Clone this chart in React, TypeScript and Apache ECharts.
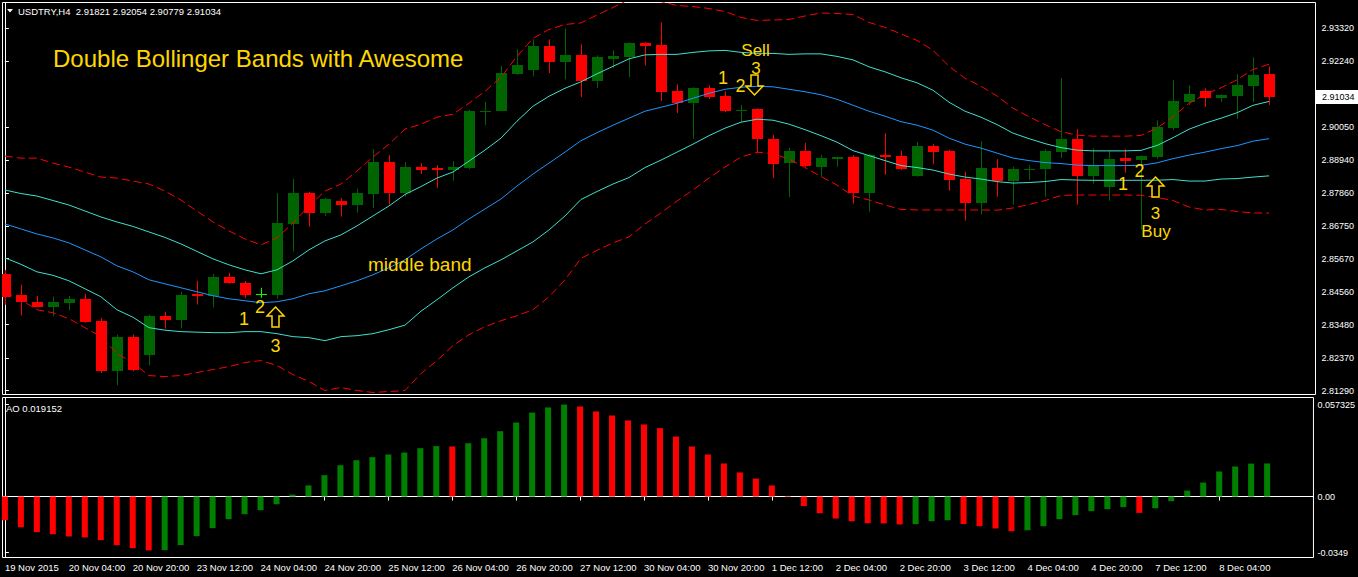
import React, { useEffect, useRef } from "react";
import * as echarts from "echarts";

// ---- H4 candles USDTRY (bar 0 = 19 Nov 2015 ...) ----
const opens = [2.85168,2.84449,2.8424,2.84074,2.84207,2.84339,2.8361,2.8193,2.8308,2.8246,
2.83776,2.8362,2.84482,2.84415,2.85068,2.84869,2.84505,2.84472,2.86825,2.87852,
2.87199,2.87587,2.87464,2.87819,2.88879,2.87862,2.88714,2.8869,2.88624,2.8868,
2.90546,2.90579,2.91806,2.91928,2.92724,2.92203,2.92425,2.91574,2.92293,2.92369,
2.92823,2.92757,2.91232,2.90845,2.91332,2.91067,2.90579,2.90636,2.89642,2.88856,
2.89244,2.88724,2.88989,2.89045,2.87862,2.89111,2.89078,2.88425,2.8941,2.89244,
2.88316,2.87531,2.8868,2.8826,2.88624,2.88657,2.89221,2.89642,2.88425,2.88061,
2.89022,2.88956,2.89055,2.90016,2.90878,2.91232,2.9101,2.91077,2.91408,2.91821];
const highs = [2.853,2.84803,2.84439,2.84405,2.84439,2.84505,2.8371,2.83146,2.83146,2.83809,
2.83908,2.84571,2.84936,2.85168,2.85201,2.84936,2.84704,2.87852,2.88316,2.87895,
2.87686,2.87686,2.87995,2.8931,2.89111,2.88879,2.88846,2.8878,2.88912,2.90613,
2.90878,2.92071,2.92624,2.92956,2.92956,2.9332,2.9279,2.92425,2.92591,2.92856,
2.92866,2.93519,2.91464,2.91365,2.91431,2.91232,2.90778,2.90669,2.89784,2.89353,
2.89519,2.89121,2.89055,2.89111,2.89154,2.8984,2.89254,2.89552,2.89486,2.89287,
2.88558,2.89575,2.88979,2.88724,2.8878,2.8931,2.91673,2.89973,2.89343,2.89244,
2.8931,2.89111,2.90271,2.91597,2.91431,2.91332,2.91133,2.91796,2.92359,2.92054];
const lows = [2.8414,2.83786,2.84057,2.83753,2.83951,2.83544,2.81864,2.81466,2.8193,2.82129,
2.83345,2.83355,2.8415,2.84051,2.84836,2.84349,2.84372,2.84339,2.85907,2.86735,
2.8709,2.87067,2.87199,2.87355,2.87464,2.87729,2.88482,2.88028,2.8826,2.88647,
2.90115,2.9057,2.91779,2.91729,2.91839,2.9163,2.91043,2.91342,2.91995,2.91706,
2.92094,2.90911,2.90513,2.89652,2.90977,2.90536,2.90215,2.89188,2.88349,2.87719,
2.88714,2.88392,2.88724,2.87497,2.87232,2.88458,2.88614,2.88399,2.88823,2.87928,
2.86934,2.8714,2.87729,2.87464,2.88283,2.87729,2.89022,2.87464,2.8816,2.87597,
2.88525,2.86636,2.88989,2.8994,2.90778,2.90712,2.90878,2.90314,2.90868,2.90779];
const closes = [2.84405,2.84217,2.84074,2.8424,2.84339,2.83577,2.8193,2.8308,2.81963,2.83776,
2.8362,2.84472,2.84415,2.85068,2.84846,2.84472,2.84505,2.86858,2.87852,2.87199,
2.87653,2.87464,2.87852,2.88879,2.87862,2.88714,2.88624,2.88624,2.88714,2.90579,
2.90593,2.91829,2.92094,2.92724,2.92193,2.92425,2.91574,2.92359,2.92392,2.92833,
2.92734,2.91209,2.90845,2.91332,2.91043,2.90579,2.90626,2.89652,2.88813,2.89244,
2.88757,2.89012,2.89045,2.87862,2.89111,2.89055,2.88657,2.8941,2.89221,2.88293,
2.87531,2.8868,2.8826,2.88647,2.88657,2.89244,2.89642,2.88425,2.88757,2.88979,
2.88922,2.89078,2.90039,2.90901,2.91133,2.9101,2.911,2.91431,2.91763,2.91034];

// ---- Bollinger middle line and one standard deviation (read per bar) ----
const bbMiddle = [2.86825,2.86659,2.86493,2.86361,2.86195,2.85963,2.85731,2.85433,2.85234,2.84969,
2.84836,2.84704,2.84571,2.84439,2.84339,2.84273,2.84207,2.8424,2.84339,2.84505,
2.84604,2.8477,2.84936,2.85135,2.85367,2.85632,2.85996,2.86328,2.86626,2.8699,
2.87322,2.87653,2.88084,2.88482,2.88846,2.89211,2.89592,2.89857,2.90106,2.90338,
2.9057,2.90702,2.90835,2.91,2.91166,2.91299,2.91365,2.91398,2.91381,2.91299,
2.91216,2.91116,2.90967,2.90768,2.9057,2.90404,2.90222,2.90106,2.8994,2.89675,
2.89476,2.89343,2.89178,2.89012,2.88929,2.88863,2.8883,2.8878,2.88763,2.88763,
2.88763,2.88772,2.88855,2.88995,2.89111,2.89211,2.89327,2.89426,2.89575,2.89658];
const bbDeviation = [0.01127,0.01176,0.01259,0.01243,0.01259,0.01292,0.01326,0.01458,0.01508,0.01591,
0.01541,0.01458,0.01342,0.01226,0.01127,0.01027,0.00961,0.0106,0.01259,0.01458,
0.01657,0.0169,0.01823,0.01955,0.02055,0.02171,0.02071,0.02022,0.01922,0.01922,
0.01955,0.02022,0.02154,0.02254,0.0222,0.02121,0.01955,0.01955,0.01955,0.01972,
0.01872,0.01756,0.01624,0.01524,0.01408,0.01292,0.0116,0.01094,0.0111,0.0116,
0.01259,0.01359,0.01425,0.01508,0.01475,0.01475,0.01458,0.01408,0.01326,0.01193,
0.01094,0.01027,0.00948,0.00829,0.00729,0.0063,0.0053,0.00497,0.00489,0.00489,
0.00489,0.00497,0.00577,0.00696,0.00862,0.00961,0.01011,0.01094,0.01193,0.01236];

// ---- Awesome Oscillator ----
const aoValues = [-0.0148,-0.0191,-0.0222,-0.0235,-0.0249,-0.0255,-0.0272,-0.0303,-0.0322,-0.0336,
-0.0334,-0.0303,-0.0247,-0.0197,-0.0141,-0.011,-0.0085,-0.0048,0.0012,0.0069,
0.0133,0.0195,0.0226,0.0245,0.0262,0.0274,0.0301,0.0314,0.0312,0.0332,
0.0363,0.0407,0.0461,0.0523,0.0555,0.0573,0.0561,0.053,0.0505,0.0474,
0.0449,0.0426,0.0374,0.0312,0.0262,0.0206,0.015,0.0112,0.0069,0.0004,
-0.006,-0.0104,-0.0137,-0.0154,-0.0166,-0.0168,-0.0174,-0.0172,-0.0154,-0.0148,
-0.0172,-0.0185,-0.0199,-0.0216,-0.021,-0.0185,-0.0141,-0.0116,-0.0091,-0.0079,
-0.0066,-0.0102,-0.0073,-0.0029,0.0037,0.0087,0.0156,0.0187,0.0205,0.0206];

const timeLabels = ["19 Nov 2015","20 Nov 04:00","20 Nov 20:00","23 Nov 12:00","24 Nov 04:00",
"24 Nov 20:00","25 Nov 12:00","26 Nov 04:00","26 Nov 20:00","27 Nov 12:00","30 Nov 04:00",
"30 Nov 20:00","1 Dec 12:00","2 Dec 04:00","2 Dec 20:00","3 Dec 12:00","4 Dec 04:00",
"4 Dec 20:00","7 Dec 12:00","8 Dec 04:00"];
const timeTickBars = timeLabels.map((_, k) => k * 4);
const priceTicks = [2.9332,2.9224,2.9005,2.8894,2.8786,2.8675,2.8567,2.8456,2.8348,2.8237,2.8129];
const aoTicks = [0.057325, 0, -0.0349];
const aoTickLabels = ["0.057325", "0.00", "-0.0349"];
const headerText = "USDTRY,H4  2.91821 2.92054 2.90779 2.91034";
const aoHeader = "AO 0.019152";

const FONT = "Liberation Sans, Arial, sans-serif";
const GOLD = "#FFD700";

export default function App() {
  const ref = useRef<HTMLDivElement>(null);
  useEffect(() => {
    if (!ref.current) return;
    const chart = echarts.init(ref.current, null, { renderer: "svg" });
    const n = closes.length;
    const line = (vals: number[]) => vals.map((v, i) => [i, v]);
    const upOuter = bbMiddle.map((m, i) => m + 2 * bbDeviation[i]);
    const upInner = bbMiddle.map((m, i) => m + bbDeviation[i]);
    const loInner = bbMiddle.map((m, i) => m - bbDeviation[i]);
    const loOuter = bbMiddle.map((m, i) => m - 2 * bbDeviation[i]);
    const candleData = closes.map((c, i) => [i, opens[i], c, lows[i], highs[i]]);
    const aoData = aoValues.map((v, i) => ({
      value: [i, v],
      itemStyle: { color: i > 0 && v > aoValues[i - 1] ? "#008000" : "#FF0000" },
    }));
    const xMin = -0.15, xMax = 81.9;
    const axisText = { color: "#FFFFFF", fontFamily: FONT };

    chart.setOption({
      animation: false,
      backgroundColor: "#000000",
      grid: [
        { left: 2.5, top: 2.5, width: 1313, height: 392, show: true, borderColor: "#FFFFFF", borderWidth: 1, backgroundColor: "transparent" },
        { left: 2.5, top: 397.5, width: 1313, height: 160, show: true, borderColor: "#FFFFFF", borderWidth: 1, backgroundColor: "transparent" },
      ],
      xAxis: [
        { type: "value", gridIndex: 0, min: xMin, max: xMax, show: false },
        {
          type: "value", gridIndex: 1, min: xMin, max: xMax,
          axisLine: { show: true, lineStyle: { color: "#FFFFFF" } },
          splitLine: { show: false },
          axisTick: { show: true, length: 4, customValues: timeTickBars, lineStyle: { color: "#FFFFFF" } },
          axisLabel: {
            ...axisText, fontSize: 9.5, margin: 5, align: "left",
            customValues: timeTickBars,
            formatter: (v: number) => timeLabels[Math.round(v / 4)] ?? "",
          },
        },
      ],
      yAxis: [
        {
          type: "value", gridIndex: 0, position: "right", min: 2.81158, max: 2.94182,
          axisLine: { show: true, lineStyle: { color: "#FFFFFF" } },
          splitLine: { show: false },
          axisTick: { show: true, length: 4, customValues: priceTicks, lineStyle: { color: "#FFFFFF" } },
          axisLabel: { ...axisText, fontSize: 9, margin: 6, customValues: priceTicks, formatter: (v: number) => v.toFixed(5) },
        },
        {
          type: "value", gridIndex: 1, position: "right", min: -0.038, max: 0.0617,
          axisLine: { show: true, lineStyle: { color: "#FFFFFF" } },
          splitLine: { show: false },
          axisTick: { show: true, length: 4, customValues: aoTicks, lineStyle: { color: "#FFFFFF" } },
          axisLabel: {
            ...axisText, fontSize: 9, margin: 4, customValues: aoTicks,
            formatter: (v: number) => {
              const k = aoTicks.findIndex((t) => Math.abs(t - v) < 1e-9);
              return k >= 0 ? aoTickLabels[k] : "";
            },
          },
        },
      ],
      series: [
        {
          type: "custom", name: "candles", xAxisIndex: 0, yAxisIndex: 0, z: 1, clip: true,
          encode: { x: 0, y: [1, 2, 3, 4] },
          data: candleData,
          renderItem: (params: any, api: any) => {
            const i = api.value(0);
            const o = api.value(1), c = api.value(2), l = api.value(3), h = api.value(4);
            const po = api.coord([i, o]);
            const pc = api.coord([i, c]);
            const pl = api.coord([i, l]);
            const ph = api.coord([i, h]);
            const x = Math.round(po[0]);
            const color = c > o ? "#006400" : c < o ? "#FF0000" : "#00FF00";
            const top = Math.round(Math.min(po[1], pc[1]));
            const bot = Math.round(Math.max(po[1], pc[1]));
            return {
              type: "group",
              children: [
                { type: "line", shape: { x1: x + 0.5, y1: ph[1], x2: x + 0.5, y2: pl[1] }, style: { stroke: color, lineWidth: 1 } },
                { type: "rect", shape: { x: x - 5, y: top, width: 11, height: Math.max(1, bot - top) }, style: { fill: color } },
              ],
            };
          },
        },
        { type: "line", xAxisIndex: 0, yAxisIndex: 0, z: 3, data: line(upOuter), symbol: "none", lineStyle: { color: "#FF0000", width: 1, type: [8, 4] } },
        { type: "line", xAxisIndex: 0, yAxisIndex: 0, z: 3, data: line(loOuter), symbol: "none", lineStyle: { color: "#FF0000", width: 1, type: [8, 4] } },
        { type: "line", xAxisIndex: 0, yAxisIndex: 0, z: 3, data: line(upInner), symbol: "none", lineStyle: { color: "#40E0D0", width: 1 } },
        { type: "line", xAxisIndex: 0, yAxisIndex: 0, z: 3, data: line(loInner), symbol: "none", lineStyle: { color: "#40E0D0", width: 1 } },
        { type: "line", xAxisIndex: 0, yAxisIndex: 0, z: 3, data: line(bbMiddle), symbol: "none", lineStyle: { color: "#1E96FF", width: 1 } },
        { type: "bar", xAxisIndex: 1, yAxisIndex: 1, data: aoData, barWidth: 6 },
      ],
    });

    const lastY = chart.convertToPixel({ yAxisIndex: 0 }, closes[n - 1]) as number;
    const txt = (x: number, y: number, text: string, size: number, align = "center") => ({
      type: "text", x, y, z: 100,
      style: { text, fill: GOLD, fontSize: size, fontFamily: FONT, align, verticalAlign: "middle" },
    });
    const upArrow = (cx: number, t: number) => ({
      type: "polygon", z: 100,
      shape: { points: [[cx, t], [cx + 8.5, t + 9], [cx + 3.5, t + 9], [cx + 3.5, t + 20], [cx - 3.5, t + 20], [cx - 3.5, t + 9], [cx - 8.5, t + 9]] },
      style: { fill: "transparent", stroke: GOLD, lineWidth: 1.5 },
    });
    const downArrow = (cx: number, t: number) => ({
      type: "polygon", z: 100,
      shape: { points: [[cx - 3.5, t], [cx + 3.5, t], [cx + 3.5, t + 11], [cx + 8.5, t + 11], [cx, t + 20], [cx - 8.5, t + 11], [cx - 3.5, t + 11]] },
      style: { fill: "transparent", stroke: GOLD, lineWidth: 1.5 },
    });

    chart.setOption({
      graphic: [
        { type: "polygon", shape: { points: [[7, 9], [13, 9], [10, 12.5]] }, style: { fill: "#FFFFFF" }, z: 100 },
        { type: "text", x: 18, y: 11, z: 100, style: { text: headerText, fill: "#FFFFFF", fontSize: 9.5, fontFamily: FONT, verticalAlign: "middle" } },
        { type: "text", x: 6, y: 408, z: 100, style: { text: aoHeader, fill: "#FFFFFF", fontSize: 9.5, fontFamily: FONT, verticalAlign: "middle" } },
        txt(53, 58, "Double Bollinger Bands with Awesome", 24, "left"),
        txt(368, 264, "middle band", 19, "left"),
        txt(244, 319, "1", 18), txt(260, 307, "2", 18), txt(275.5, 346, "3", 18), upArrow(275.5, 307),
        txt(755.5, 50, "Sell", 17), txt(756, 68, "3", 17), txt(723, 78, "1", 18), txt(740.5, 86, "2", 18), downArrow(754.5, 75),
        txt(1123, 184, "1", 18), txt(1139.5, 171, "2", 18), upArrow(1155.5, 177), txt(1155.5, 213, "3", 17), txt(1156, 231, "Buy", 17),
        { type: "rect", z: 100, shape: { x: 1316, y: Math.round(lastY) - 7, width: 42, height: 14 }, style: { fill: "#FFFFFF" } },
        { type: "text", x: 1322, y: lastY, z: 101, style: { text: closes[n - 1].toFixed(5), fill: "#000000", fontSize: 9, fontFamily: FONT, verticalAlign: "middle" } },
      ],
    });

    return () => chart.dispose();
  }, []);
  return <div ref={ref} style={{ position: "absolute", left: 0, top: 0, width: 1358, height: 577 }} />;
}
